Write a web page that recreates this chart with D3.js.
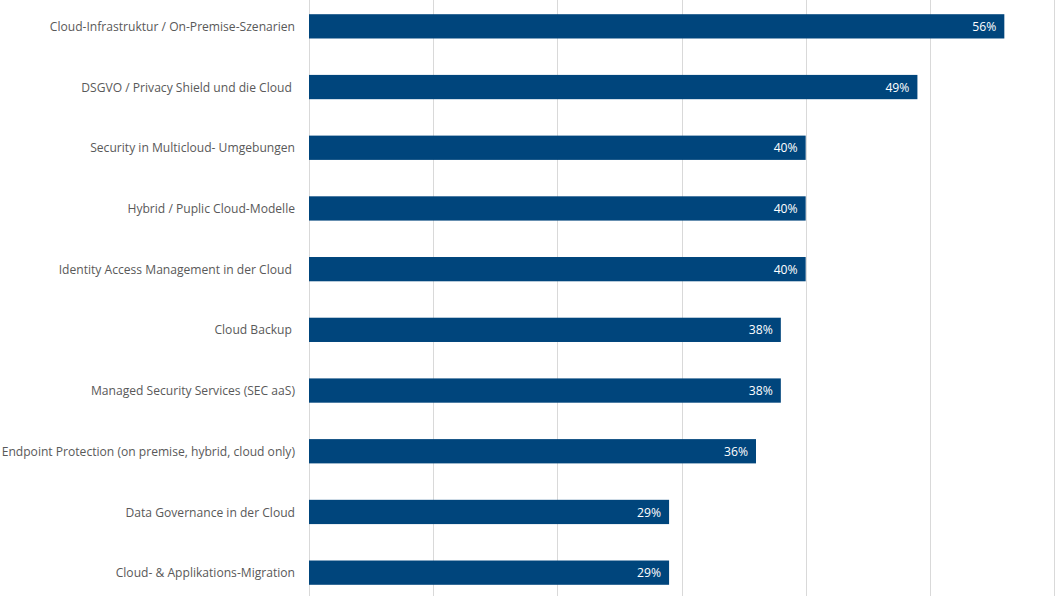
<!DOCTYPE html>
<html>
<head>
<meta charset="utf-8">
<script src="https://cdn.jsdelivr.net/npm/d3@7"></script>
<style>
  body { margin: 0; background: #fff; }
  text { font-family: "Open Sans", sans-serif; }
</style>
</head>
<body>
<svg id="chart" width="1055" height="596"></svg>
<script>
// categories, top to bottom
var categories = [
  "Cloud-Infrastruktur / On-Premise-Szenarien",
  "DSGVO / Privacy Shield und die Cloud ",
  "Security in Multicloud- Umgebungen",
  "Hybrid / Puplic Cloud-Modelle",
  "Identity Access Management in der Cloud ",
  "Cloud Backup ",
  "Managed Security Services (SEC aaS)",
  "Endpoint Protection (on premise, hybrid, cloud only)",
  "Data Governance in der Cloud",
  "Cloud- & Applikations-Migration"
];
var values = [0.56, 0.49, 0.40, 0.40, 0.40, 0.38, 0.38, 0.36, 0.29, 0.29];
var gridTicks = [0, 0.1, 0.2, 0.3, 0.4, 0.5, 0.6];

var svg = d3.select("#chart");

var x = d3.scaleLinear().domain([0, 0.6]).range([309, 1054]);
var y = d3.scaleBand().domain(categories).range([-4.0, 603.0]).paddingInner(0.6).paddingOuter(0.3);

// gridlines
svg.append("g")
  .selectAll("line")
  .data(gridTicks)
  .join("line")
  .attr("x1", d => Math.round(x(d)) + 0.5)
  .attr("x2", d => Math.round(x(d)) + 0.5)
  .attr("y1", 0)
  .attr("y2", 596)
  .attr("stroke", "#d9d9d9")
  .attr("stroke-width", 1);

// bars
svg.append("g")
  .selectAll("rect")
  .data(categories)
  .join("rect")
  .attr("x", x(0))
  .attr("y", d => y(d))
  .attr("width", (d, i) => x(values[i]) - x(0))
  .attr("height", y.bandwidth())
  .attr("fill", "#00457c");

// value labels
svg.append("g")
  .selectAll("text")
  .data(categories)
  .join("text")
  .attr("x", (d, i) => x(values[i]) - 8)
  .attr("y", d => y(d) + y.bandwidth() / 2)
  .attr("dy", "0.38em")
  .attr("text-anchor", "end")
  .attr("fill", "#fff")
  .style("font-size", "12.2px")
  .text((d, i) => Math.round(values[i] * 100) + "%");

// category axis
var axis = svg.append("g")
  .attr("transform", "translate(295,0)")
  .call(d3.axisLeft(y).tickSize(0).tickPadding(0));
axis.select(".domain").remove();
axis.selectAll("text")
  .attr("fill", "#595959")
  .attr("dy", "0.38em")
  .style("font-size", "12.1px")
  .style("font-family", "Open Sans, sans-serif")
  .style("white-space", "pre");
</script>
</body>
</html>
